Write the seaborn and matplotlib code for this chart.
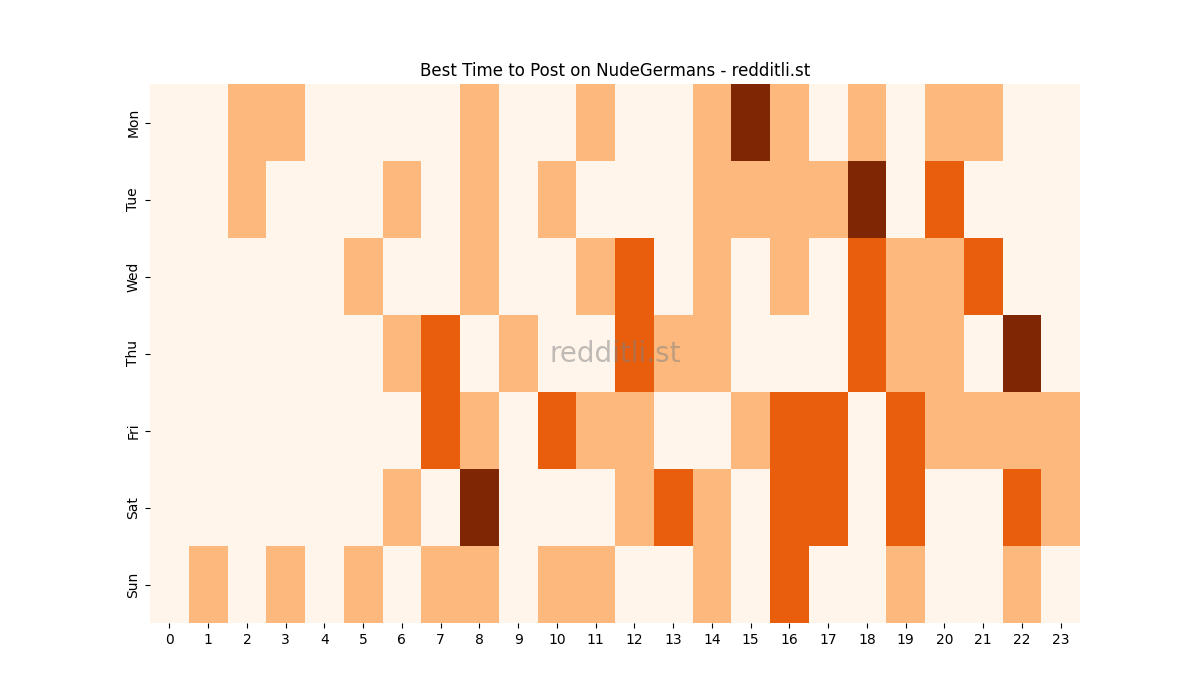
import matplotlib
matplotlib.use("Agg")
import matplotlib.pyplot as plt
import seaborn as sns
import pandas as pd

days = ["Mon", "Tue", "Wed", "Thu", "Fri", "Sat", "Sun"]
hours = list(range(24))

mon = [0,0,1,1,0,0,0,0,1,0,0,1,0,0,1,3,1,0,1,0,1,1,0,0]
tue = [0,0,1,0,0,0,1,0,1,0,1,0,0,0,1,1,1,1,3,0,2,0,0,0]
wed = [0,0,0,0,0,1,0,0,1,0,0,1,2,0,1,0,1,0,2,1,1,2,0,0]
thu = [0,0,0,0,0,0,1,2,0,1,0,0,2,1,1,0,0,0,2,1,1,0,3,0]
fri = [0,0,0,0,0,0,0,2,1,0,2,1,1,0,0,1,2,2,0,2,1,1,1,1]
sat = [0,0,0,0,0,0,1,0,3,0,0,0,1,2,1,0,2,2,0,2,0,0,2,1]
sun = [0,1,0,1,0,1,0,1,1,0,1,1,0,0,1,0,2,0,0,1,0,0,1,0]

df = pd.DataFrame([mon, tue, wed, thu, fri, sat, sun], index=days, columns=hours)

fig, ax = plt.subplots(figsize=(12, 7), dpi=100)
sns.heatmap(df, cmap="Oranges", cbar=False, ax=ax, vmin=0, vmax=3)
ax.set_title("Best Time to Post on NudeGermans - redditli.st")
ax.set_xlabel("")
ax.set_ylabel("")
ax.text(0.5, 0.5, "redditli.st", transform=ax.transAxes, ha="center", va="center",
        fontsize=20, color="grey", alpha=0.5)
fig.savefig("out.png", dpi=100)
